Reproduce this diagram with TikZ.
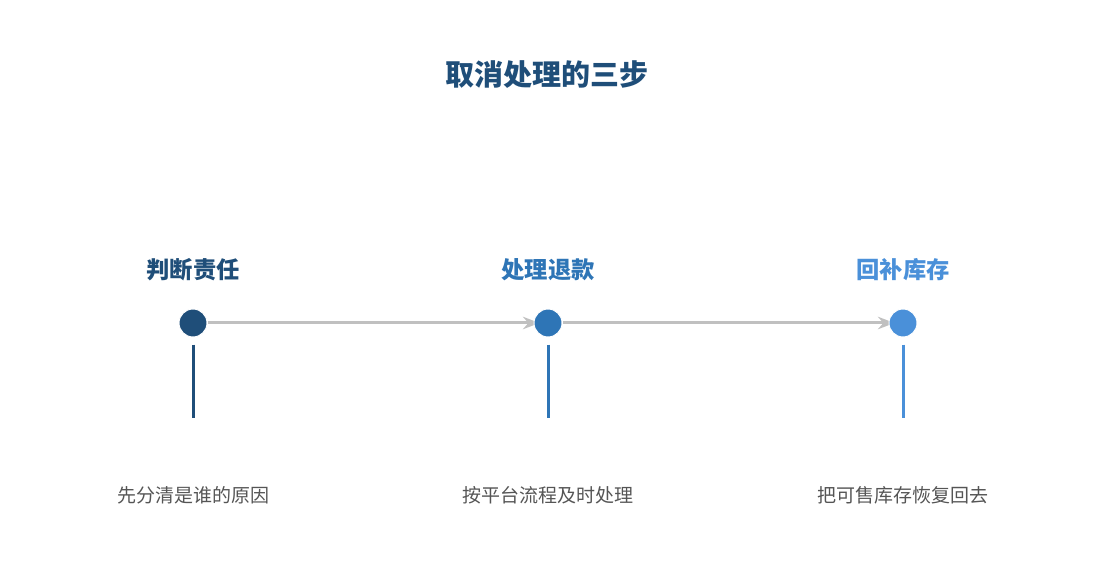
\documentclass[tikz,border=0pt]{standalone}
\usepackage{fontspec}
\setmainfont{Noto Sans CJK SC}
\usepackage{tikz}
\usetikzlibrary{
    arrows.meta,
    positioning
}
\pgfdeclarelayer{background}
\pgfsetlayers{background,main}
\definecolor{stepone}{HTML}{1F4E79}
\definecolor{steptwo}{HTML}{2E75B6}
\definecolor{stepthree}{HTML}{4A90D9}
\definecolor{flowgray}{HTML}{C0C0C0}
\definecolor{notegray}{HTML}{555555}

\begin{document}
\begin{tikzpicture}[>=Stealth,x=1pt,y=-1pt,
        dot/.style={circle, minimum size=28pt, inner sep=0pt, draw=white, line width=1pt},
        flow/.style={draw=flowgray, line width=3pt, ->, shorten >=-6pt},
        stem/.style={line width=3pt},
        steplabel/.style={font=\bfseries\fontsize{23.3}{25}\selectfont},
        stepnote/.style={font=\fontsize{19}{21}\selectfont, text=notegray}]
            \useasboundingbox (0,0) rectangle (1095,585);

            \node[font=\bfseries\fontsize{29}{31}\selectfont, text=stepone] (title) at (547,75) {取消处理的三步};

            \node[steplabel, text=stepone] (l1) at (193,270) {判断责任};
            \node[steplabel, text=steptwo] (l2) at (548,270) {处理退款};
            \node[steplabel, text=stepthree] (l3) at (903,270) {回补库存};

            \node[dot, fill=stepone] (s1) at (193,323) {};
            \node[dot, fill=steptwo] (s2) at (548,323) {};
            \node[dot, fill=stepthree] (s3) at (903,323) {};

            \begin{pgfonlayer}{background}
            \draw[flow] (s1) -- (s2);
            \draw[flow] (s2) -- (s3);
            \end{pgfonlayer}

            \coordinate (b1) at (193,418);
            \coordinate (b2) at (548,418);
            \coordinate (b3) at (903,418);
            \draw[stem, stepone] ([yshift=-7pt]s1.south) -- (b1);
            \draw[stem, steptwo] ([yshift=-7pt]s2.south) -- (b2);
            \draw[stem, stepthree] ([yshift=-7pt]s3.south) -- (b3);

            \node[stepnote] (n1) at (193,495) {先分清是谁的原因};
            \node[stepnote] (n2) at (548,495) {按平台流程及时处理};
            \node[stepnote] (n3) at (903,495) {把可售库存恢复回去};
        \end{tikzpicture}
\end{document}
